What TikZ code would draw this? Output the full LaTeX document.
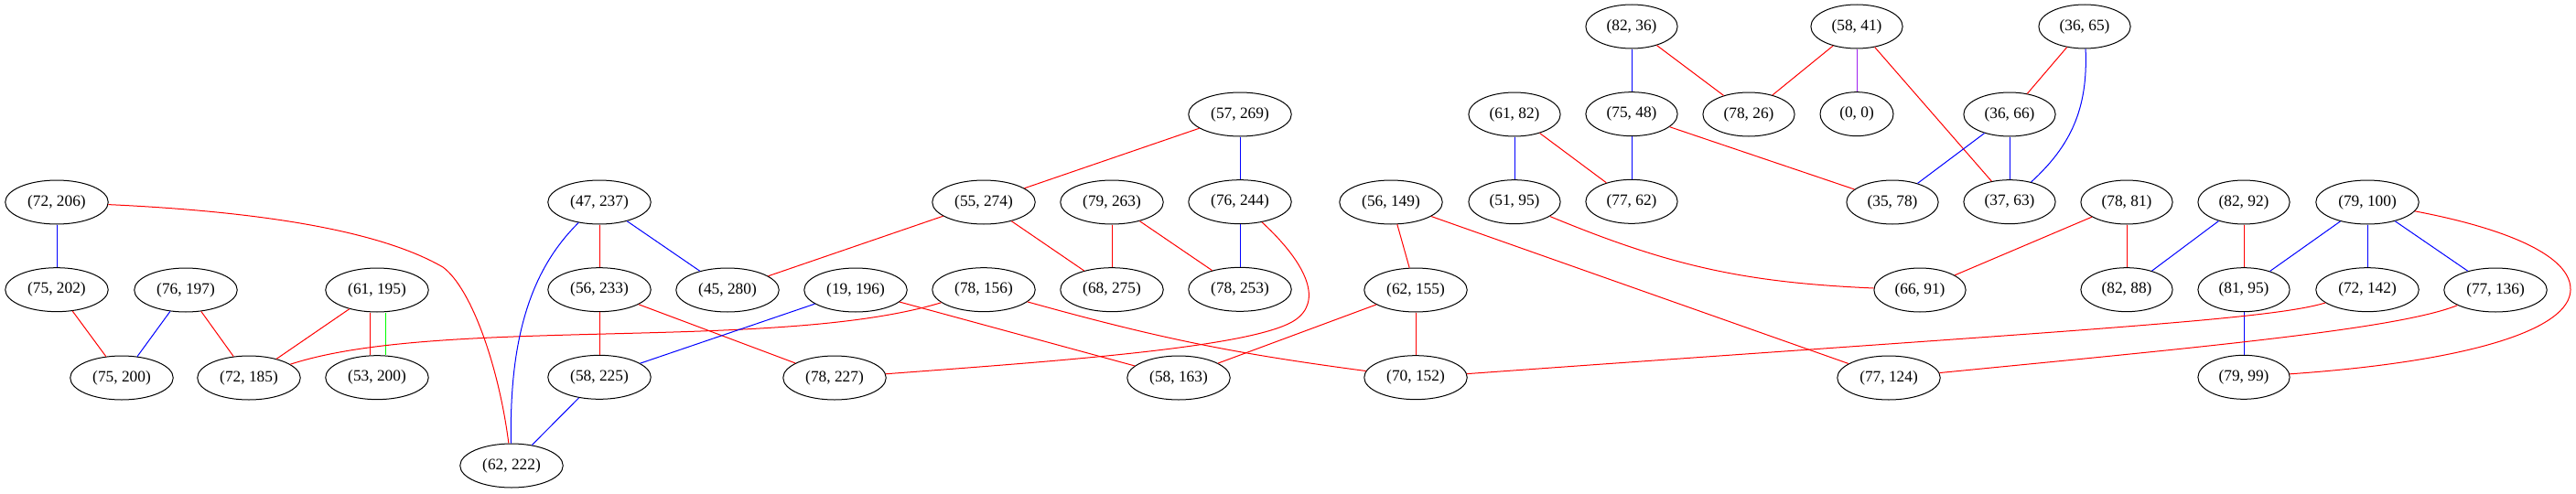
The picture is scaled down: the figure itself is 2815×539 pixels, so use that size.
\documentclass[tikz,border=0pt]{standalone}
\usepackage{fontspec}
\setmainfont{Liberation Serif}
\usetikzlibrary{positioning,shapes.geometric}
\definecolor{gvpurple}{HTML}{A020F0}

\begin{document}
\begin{tikzpicture}[
    x = 0.75pt, % one pixel
    y = -0.75pt, % rows go down
    node distance = 35pt, % gap between ranks
    line width = 0.75pt, % line style
    font = \fontsize{13}{15}\selectfont
    ]

    \tikzset{vertex/.style = {
    draw = black,
    ellipse,
    inner xsep = 6pt,
    inner ysep = 0pt,
    minimum width = 60pt,
    minimum height = 36pt
    }}
    \useasboundingbox (0,0) rectangle (2815,539);

    \node[vertex] (v82-36) at (1783,29) {(82, 36)};
    \node[vertex] (v58-41) at (2029,29) {(58, 41)};
    \node[vertex] (v36-65) at (2278,29) {(36, 65)};

    \node[vertex] (v57-269) at (1355,125) {(57, 269)};
    \node[vertex] (v61-82) at (1655,125) {(61, 82)};
    \node[vertex] (v75-48) [below=of v82-36] {(75, 48)};
    \node[vertex] (v78-26) at (1911,125) {(78, 26)};
    \node[vertex] (v0-0) [below=of v58-41] {(0, 0)};
    \node[vertex] (v36-66) at (2196,125) {(36, 66)};

    \node[vertex] (v72-206) at (62,221) {(72, 206)};
    \node[vertex] (v47-237) at (655,221) {(47, 237)};
    \node[vertex] (v55-274) at (1075,221) {(55, 274)};
    \node[vertex] (v79-263) at (1215,221) {(79, 263)};
    \node[vertex] (v76-244) [below=of v57-269] {(76, 244)};
    \node[vertex] (v56-149) at (1520,221) {(56, 149)};
    \node[vertex] (v51-95) [below=of v61-82] {(51, 95)};
    \node[vertex] (v77-62) [below=of v75-48] {(77, 62)};
    \node[vertex] (v35-78) at (2068,221) {(35, 78)};
    \node[vertex] (v37-63) [below=of v36-66] {(37, 63)};
    \node[vertex] (v78-81) at (2324,221) {(78, 81)};
    \node[vertex] (v82-92) at (2452,221) {(82, 92)};
    \node[vertex] (v79-100) at (2587,221) {(79, 100)};

    \node[vertex] (v75-202) [below=of v72-206] {(75, 202)};
    \node[vertex] (v76-197) at (203,317) {(76, 197)};
    \node[vertex] (v61-195) at (412,317) {(61, 195)};
    \node[vertex] (v56-233) [below=of v47-237] {(56, 233)};
    \node[vertex] (v45-280) at (795,317) {(45, 280)};
    \node[vertex] (v19-196) at (935,317) {(19, 196)};
    \node[vertex] (v78-156) [below=of v55-274] {(78, 156)};
    \node[vertex] (v68-275) [below=of v79-263] {(68, 275)};
    \node[vertex] (v78-253) [below=of v76-244] {(78, 253)};
    \node[vertex] (v62-155) at (1547,317) {(62, 155)};
    \node[vertex] (v66-91) at (2098,317) {(66, 91)};
    \node[vertex] (v82-88) [below=of v78-81] {(82, 88)};
    \node[vertex] (v81-95) [below=of v82-92] {(81, 95)};
    \node[vertex] (v72-142) [below=of v79-100] {(72, 142)};
    \node[vertex] (v77-136) at (2727,317) {(77, 136)};

    \node[vertex] (v75-200) at (133,413) {(75, 200)};
    \node[vertex] (v72-185) at (272,413) {(72, 185)};
    \node[vertex] (v53-200) [below=of v61-195] {(53, 200)};
    \node[vertex] (v58-225) [below=of v56-233] {(58, 225)};
    \node[vertex] (v78-227) at (912,413) {(78, 227)};
    \node[vertex] (v58-163) at (1288,413) {(58, 163)};
    \node[vertex] (v70-152) [below=of v62-155] {(70, 152)};
    \node[vertex] (v77-124) at (2064,413) {(77, 124)};
    \node[vertex] (v79-99) [below=of v81-95] {(79, 99)};

    \node[vertex] (v62-222) at (559,509) {(62, 222)};

    \path (v72-206) edge[blue] (v75-202);
    \draw[red] (v72-206) .. controls (300,232) and (420,255) .. (484,292) .. controls (515,315) and (545,400) .. (v62-222);
    \path (v75-202) edge[red] (v75-200);
    \path (v76-197) edge[blue] (v75-200);
    \path (v76-197) edge[red] (v72-185);
    \path (v61-195) edge[red] (v72-185);
    \draw[red] ([xshift=-6pt]v61-195.south) -- ([xshift=-6pt]v53-200.north);
    \draw[green] ([xshift=7pt]v61-195.south) -- ([xshift=7pt]v53-200.north);
    \draw[red] (v72-185) .. controls (480,345) and (850,385) .. (v78-156);
    \path (v47-237) edge[red] (v56-233);
    \path (v47-237) edge[blue] (v45-280);
    \draw[blue] (v47-237) .. controls (585,290) and (556,360) .. (v62-222);
    \path (v56-233) edge[red] (v58-225);
    \path (v56-233) edge[red] (v78-227);
    \path (v58-225) edge[blue] (v62-222);
    \path (v19-196) edge[blue] (v58-225);
    \path (v19-196) edge[red] (v58-163);
    \path (v55-274) edge[red] (v45-280);
    \path (v55-274) edge[red] (v68-275);
    \path (v57-269) edge[red] (v55-274);
    \path (v57-269) edge[blue] (v76-244);
    \path (v79-263) edge[red] (v68-275);
    \path (v79-263) edge[red] (v78-253);
    \path (v76-244) edge[blue] (v78-253);
    \draw[red] (v76-244) .. controls (1430,290) and (1445,330) .. (1415,350) .. controls (1370,380) and (1150,395) .. (v78-227);
    \path (v78-156) edge[red, bend right=4] (v70-152);
    \path (v56-149) edge[red] (v62-155);
    \path (v56-149) edge[red] (v77-124);
    \path (v62-155) edge[red] (v58-163);
    \path (v62-155) edge[red] (v70-152);
    \path (v61-82) edge[blue] (v51-95);
    \path (v61-82) edge[red] (v77-62);
    \path (v75-48) edge[blue] (v77-62);
    \path (v75-48) edge[red] (v35-78);
    \path (v82-36) edge[blue] (v75-48);
    \path (v82-36) edge[red] (v78-26);
    \path (v58-41) edge[red] (v78-26);
    \path (v58-41) edge[gvpurple] (v0-0);
    \path (v58-41) edge[red] (v37-63);
    \path (v36-65) edge[red] (v36-66);
    \draw[blue] (v36-65) .. controls (2282,120) and (2262,160) .. (v37-63);
    \path (v36-66) edge[blue] (v35-78);
    \path (v36-66) edge[blue] (v37-63);
    \path (v51-95) edge[red, bend right=10] (v66-91);
    \path (v78-81) edge[red] (v66-91);
    \path (v78-81) edge[red] (v82-88);
    \path (v82-92) edge[blue] (v82-88);
    \path (v82-92) edge[red] (v81-95);
    \path (v79-100) edge[blue] (v81-95);
    \path (v79-100) edge[blue] (v72-142);
    \path (v79-100) edge[blue] (v77-136);
    \draw[red] (v79-100) .. controls (2740,250) and (2810,280) .. (2809,317) .. controls (2808,360) and (2700,395) .. (v79-99);
    \path (v81-95) edge[blue] (v79-99);
    \draw[red] (v72-142) .. controls (2480,350) and (2250,362) .. (v70-152);
    \draw[red] (v77-136) .. controls (2620,360) and (2400,380) .. (v77-124);
\end{tikzpicture}
\end{document}
